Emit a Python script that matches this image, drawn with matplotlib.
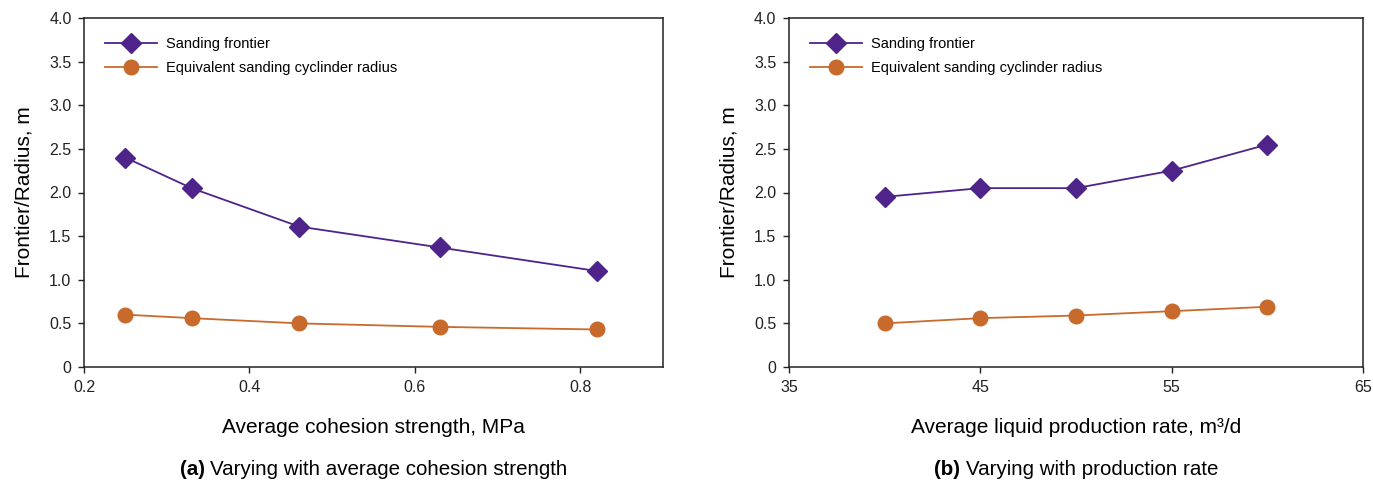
import matplotlib
matplotlib.use("Agg")
import matplotlib.pyplot as plt

plt.rcParams['font.family'] = ['Liberation Sans', 'DejaVu Sans']

# Panel (a)
cohesion = [0.25, 0.33, 0.46, 0.63, 0.82]
frontier_a = [2.40, 2.05, 1.61, 1.37, 1.10]
radius_a = [0.60, 0.56, 0.50, 0.46, 0.43]

# Panel (b)
rate = [40, 45, 50, 55, 60]
frontier_b = [1.95, 2.05, 2.05, 2.25, 2.55]
radius_b = [0.50, 0.56, 0.59, 0.64, 0.69]

yticks = [0, 0.5, 1.0, 1.5, 2.0, 2.5, 3.0, 3.5, 4.0]
ytick_labels = ['0', '0.5', '1.0', '1.5', '2.0', '2.5', '3.0', '3.5', '4.0']
xticks_a = [0.2, 0.4, 0.6, 0.8]
xticklabels_a = ['0.2', '0.4', '0.6', '0.8']
xticks_b = [35, 45, 55, 65]
xticklabels_b = ['35', '45', '55', '65']

legend_labels = ['Sanding frontier', 'Equivalent sanding cyclinder radius']

PURPLE = '#4E238A'
ORANGE = '#C86A2C'

fig = plt.figure(figsize=(13.73, 4.80), dpi=100)
ax1 = fig.add_axes([84/1373, 1-367/480, (663-84)/1373, (367-18)/480])
ax2 = fig.add_axes([789/1373, 1-367/480, (1363-789)/1373, (367-18)/480])

def style(ax, x, fr, ra, xlim, xticks, xticklabels, xlabel):
    ax.plot(x, fr, color=PURPLE, lw=1.3, marker='D', ms=10, mfc=PURPLE, mec=PURPLE,
            label=legend_labels[0], zorder=3)
    ax.plot(x, ra, color=ORANGE, lw=1.3, marker='o', ms=10.5, mfc=ORANGE, mec=ORANGE,
            label=legend_labels[1], zorder=3)
    ax.set_xlim(*xlim)
    ax.set_ylim(0, 4.0)
    ax.set_yticks(yticks)
    ax.set_yticklabels(ytick_labels)
    ax.set_xticks(xticks)
    ax.set_xticklabels(xticklabels)
    ax.tick_params(direction='out', length=4, width=1.0, labelsize=11.5, colors='#222222', pad=5)
    for s in ax.spines.values():
        s.set_linewidth(1.1)
        s.set_color('#222222')
    ax.set_ylabel('Frontier/Radius, m', fontsize=15, labelpad=11)
    ax.set_xlabel(xlabel, fontsize=15, labelpad=17)
    ax.legend(loc='upper left', bbox_to_anchor=(0.036, 0.945), frameon=False,
              borderpad=0, borderaxespad=0, handlelength=3.6, handletextpad=0.6,
              labelspacing=0.68, fontsize=10.5)

style(ax1, cohesion, frontier_a, radius_a, (0.2, 0.9), xticks_a, xticklabels_a,
      'Average cohesion strength, MPa')
style(ax2, rate, frontier_b, radius_b, (35, 65), xticks_b, xticklabels_b,
      'Average liquid production rate, m\u00b3/d')

CAP = 14.8
fig.canvas.draw()
rend = fig.canvas.get_renderer()
for ax, b, r in [(ax1, '(a)', 'Varying with average cohesion strength'),
                 (ax2, '(b)', 'Varying with production rate')]:
    tb = fig.text(0, 0, b + ' ', fontsize=CAP, fontweight='bold')
    tr = fig.text(0, 0, r, fontsize=CAP)
    wb = tb.get_window_extent(rend).width
    wr = tr.get_window_extent(rend).width
    tb.remove(); tr.remove()
    bb = ax.get_window_extent(rend)
    cx = bb.x0 + bb.width / 2
    y = bb.y0 - 0.295 * bb.height
    x0 = cx - (wb + wr) / 2
    fig.text(x0 / fig.bbox.width, y / fig.bbox.height, b + ' ', fontsize=CAP,
             fontweight='bold', ha='left', va='center')
    fig.text((x0 + wb) / fig.bbox.width, y / fig.bbox.height, r, fontsize=CAP,
             ha='left', va='center')

fig.savefig('out.png', dpi=100)
